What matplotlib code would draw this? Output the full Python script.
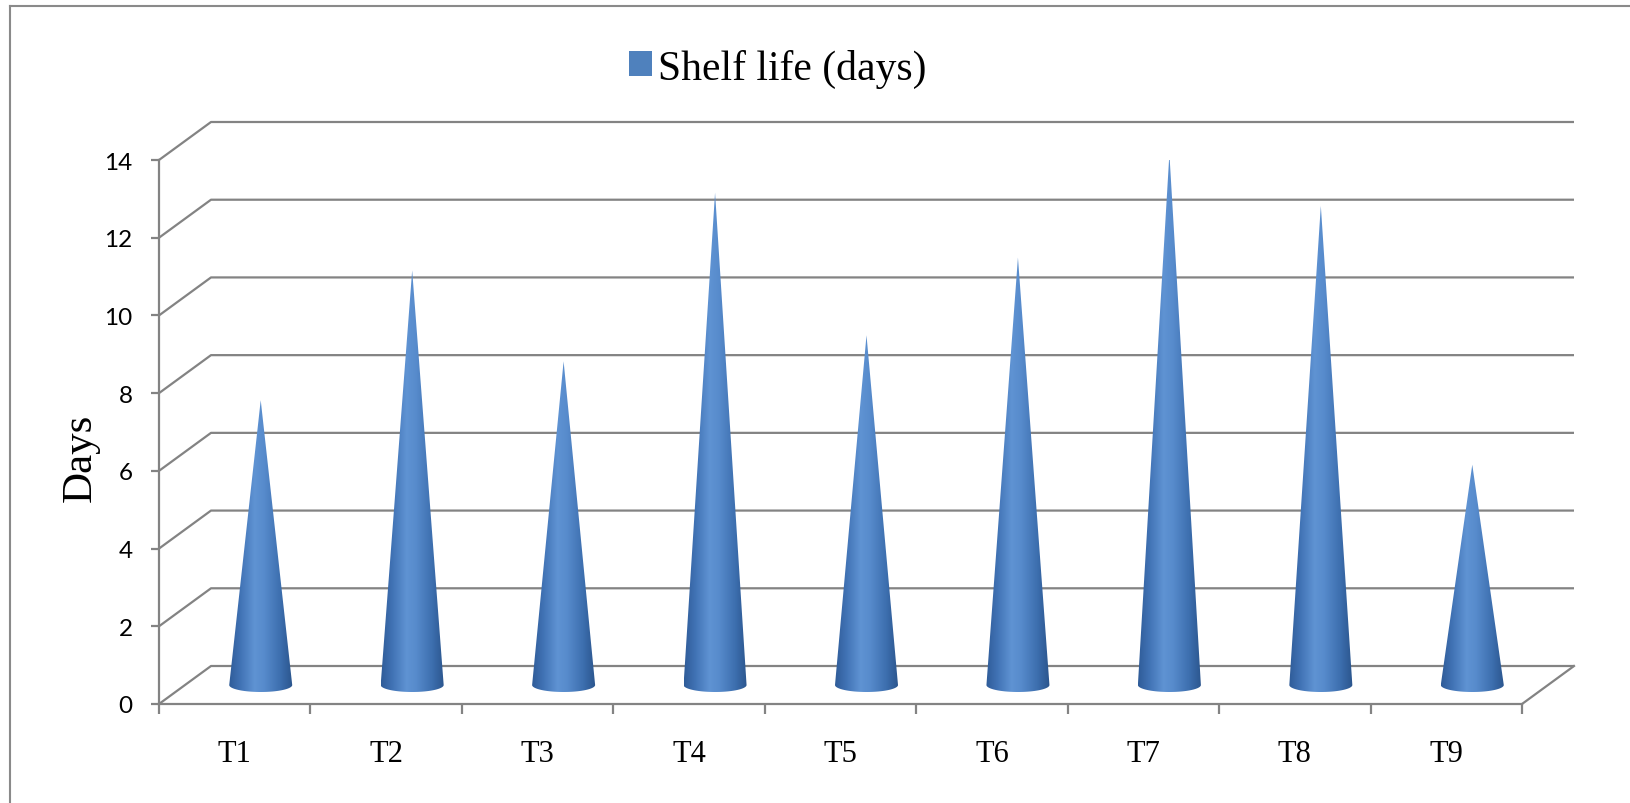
import numpy as np
import matplotlib
matplotlib.use('Agg')
import matplotlib.pyplot as plt
from matplotlib.patches import Polygon, Rectangle
from matplotlib.lines import Line2D
from matplotlib.colors import LinearSegmentedColormap

# shelf life per treatment (days)
treatments=['T1','T2','T3','T4','T5','T6','T7','T8','T9']
shelf_life=[7.33,10.67,8.33,12.67,9.0,11.0,13.67,12.33,5.67]
y_ticks=[0,2,4,6,8,10,12,14]

grid_col='#838383'
cone_col='#4F81BD'
serif=['Liberation Serif','DejaVu Serif']

W,H=1631,804
fig=plt.figure(figsize=(W/100,H/100),dpi=100)
ax=fig.add_axes([159/W,(H-705)/H,(1522-159)/W,(705-161)/H])
ax.set_xlim(0,len(treatments))
ax.set_ylim(0,14)
ax.patch.set_alpha(0)

# depth of the pseudo-3d box in data units (52 px right, 38 px up)
p0=ax.transData.transform((0,0))
p1=ax.transData.transform((1,1))
ddx=52/(p1[0]-p0[0])
ddy=38/(p1[1]-p0[1])
n=len(treatments)

# back wall gridlines with their side diagonals
for v in y_ticks:
    ax.plot([0,ddx,n+ddx],[v,v+ddy,v+ddy],color=grid_col,lw=1.6,
            clip_on=False,zorder=1,solid_capstyle='butt')
# right edge of the floor
ax.plot([n,n+ddx],[0,ddy],color=grid_col,lw=1.6,clip_on=False,zorder=1)

# cones sit half way into the depth
shade=LinearSegmentedColormap.from_list('cone',
    [(0.0,'#2F5C98'),(0.18,'#4173B5'),(0.4,'#5F93D3'),(0.55,'#578BCC'),
     (0.8,'#3D6FAF'),(1.0,'#2A548C')])
grad=shade(np.linspace(0,1,256))[np.newaxis,:,:3]
r=0.208
ry=0.18
for i,val in enumerate(shelf_life):
    cx=i+0.5+0.5*ddx
    by=0.5*ddy
    ty=by+val
    th=np.linspace(0,-np.pi,60)
    verts=[(cx,ty)]+[(cx+r*np.cos(t),by+ry*np.sin(t)) for t in th]
    poly=Polygon(verts,closed=True,facecolor='none',edgecolor='none',
                 transform=ax.transData)
    ax.add_patch(poly)
    poly.set_clip_on(False)
    im=ax.imshow(grad,extent=[cx-r,cx+r,by-ry,ty],aspect='auto',
                 interpolation='bicubic',zorder=3)
    im.set_clip_path(poly)

ax.set_xlim(0,n)
ax.set_ylim(0,14)

for s in ['top','right']:
    ax.spines[s].set_visible(False)
for s in ['left','bottom']:
    ax.spines[s].set_color(grid_col)
    ax.spines[s].set_linewidth(1.6)
    ax.spines[s].set_zorder(2)

ax.set_yticks(y_ticks)
ax.set_yticklabels([str(v) for v in y_ticks],family=['Lato','DejaVu Sans'],fontsize=17.5)
ax.tick_params(axis='y',direction='out',length=6,width=1.6,color=grid_col,pad=13)
ax.set_xticks(np.arange(n+1))
ax.set_xticklabels([])
ax.set_xticks(np.arange(n)+0.5,minor=True)
ax.set_xticklabels(treatments,minor=True,family=serif,fontsize=22)
ax.tick_params(axis='x',which='major',direction='out',length=7,width=1.6,color=grid_col)
ax.tick_params(axis='x',which='minor',length=0,pad=25)

fig.text(81/W,(H-458)/H,'Days',rotation=90,ha='center',va='center',
         family=serif,fontsize=31)

handle=Rectangle((0,0),1,1,facecolor=cone_col,edgecolor='none')
fig.legend([handle],['Shelf life (days)'],loc='center',
           bbox_to_anchor=(778/W,(H-69)/H),frameon=False,
           prop={'family':serif,'size':30},handlelength=0.55,handleheight=0.55,
           handletextpad=0.15,borderpad=0)

# chart frame
fig.add_artist(Line2D([10/W,10/W],[0,(H-7)/H],color='#8a8a8a',lw=1.5))
fig.add_artist(Line2D([10/W,1],[(H-7)/H,(H-7)/H],color='#8a8a8a',lw=1.5))

fig.savefig('out.png',dpi=100)
